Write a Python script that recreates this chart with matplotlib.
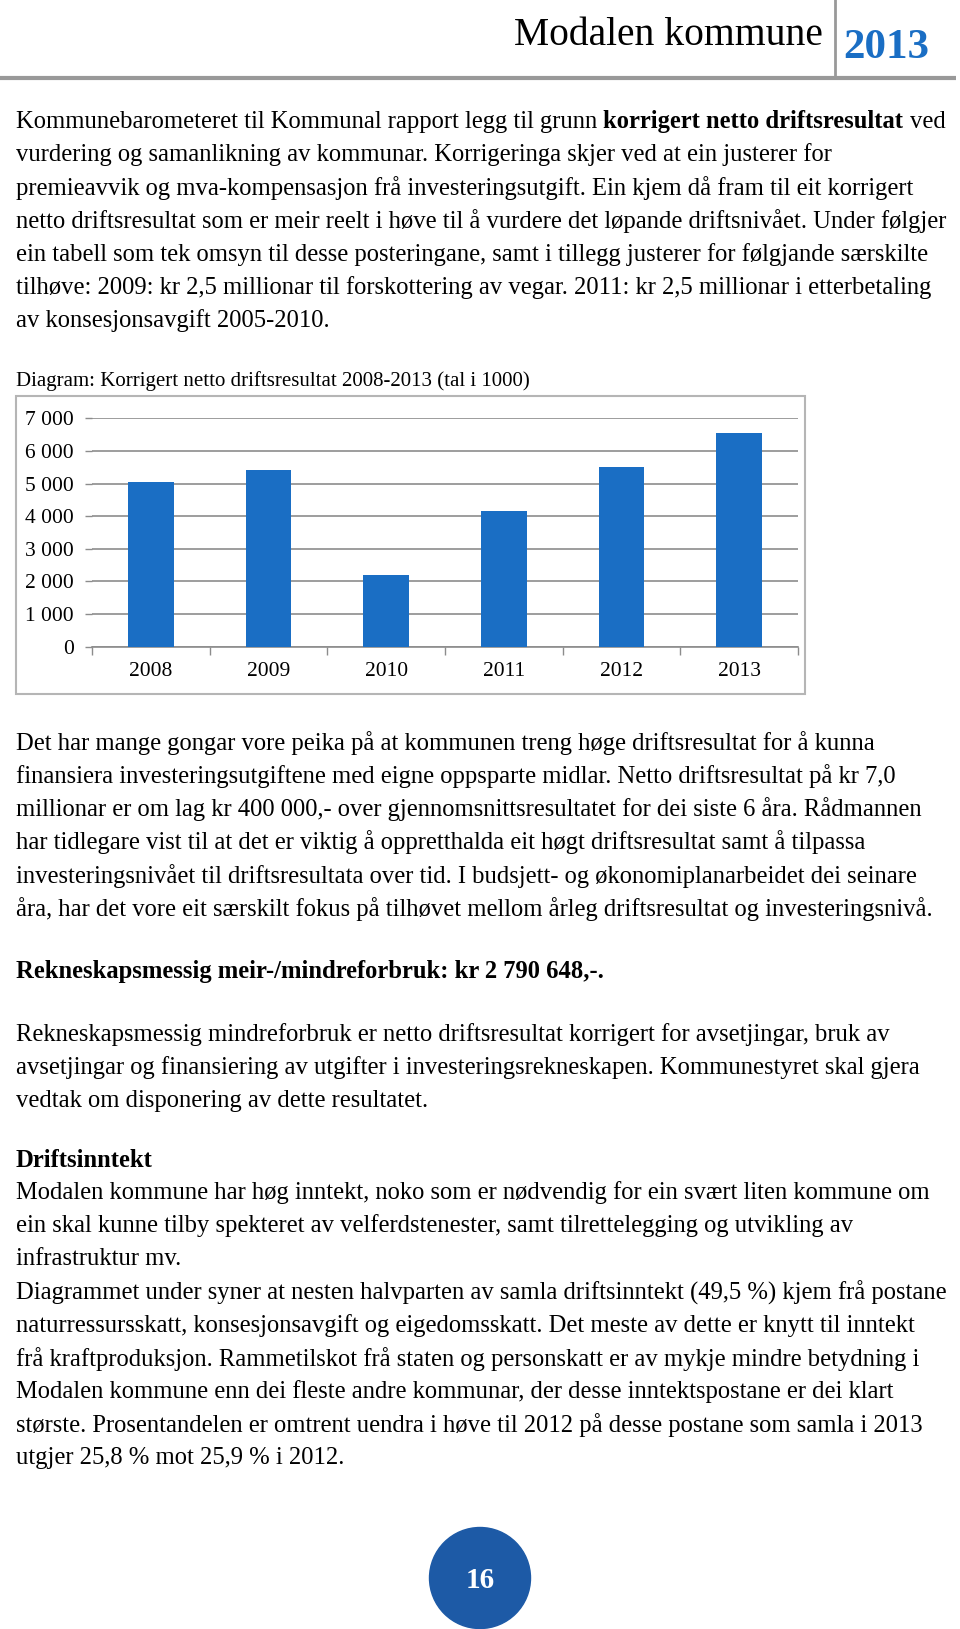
import matplotlib.pyplot as plt
from matplotlib.patches import Circle, Rectangle

# chart data (tal i 1000)
years = ['2008', '2009', '2010', '2011', '2012', '2013']
result = [5040, 5430, 2190, 4160, 5520, 6560]
yticks = [0, 1000, 2000, 3000, 4000, 5000, 6000, 7000]

SERIF = 'Liberation Serif'
BODY = 17.7
BLUE = '#1a6ec4'

para1 = [
    [('Kommunebarometeret til Kommunal rapport legg til grunn', False),
     ('korrigert netto driftsresultat', True), ('ved', False)],
    [('vurdering og samanlikning av kommunar. Korrigeringa skjer ved at ein justerer for', False)],
    [('premieavvik og mva-kompensasjon frå investeringsutgift. Ein kjem då fram til eit korrigert', False)],
    [('netto driftsresultat som er meir reelt i høve til å vurdere det løpande driftsnivået. Under følgjer', False)],
    [('ein tabell som tek omsyn til desse posteringane, samt i tillegg justerer for følgjande særskilte', False)],
    [('tilhøve: 2009: kr 2,5 millionar til forskottering av vegar. 2011: kr 2,5 millionar i etterbetaling', False)],
    [('av konsesjonsavgift 2005-2010.', False)],
]
para2 = [
    'Det har mange gongar vore peika på at kommunen treng høge driftsresultat for å kunna',
    'finansiera investeringsutgiftene med eigne oppsparte midlar. Netto driftsresultat på kr 7,0',
    'millionar er om lag kr 400 000,- over gjennomsnittsresultatet for dei siste 6 åra. Rådmannen',
    'har tidlegare vist til at det er viktig å oppretthalda eit høgt driftsresultat samt å tilpassa',
    'investeringsnivået til driftsresultata over tid. I budsjett- og økonomiplanarbeidet dei seinare',
    'åra, har det vore eit særskilt fokus på tilhøvet mellom årleg driftsresultat og investeringsnivå.',
]
para3 = [
    'Rekneskapsmessig mindreforbruk er netto driftsresultat korrigert for avsetjingar, bruk av',
    'avsetjingar og finansiering av utgifter i investeringsrekneskapen. Kommunestyret skal gjera',
    'vedtak om disponering av dette resultatet.',
]
para4 = [
    'Modalen kommune har høg inntekt, noko som er nødvendig for ein svært liten kommune om',
    'ein skal kunne tilby spekteret av velferdstenester, samt tilrettelegging og utvikling av',
    'infrastruktur mv.',
    'Diagrammet under syner at nesten halvparten av samla driftsinntekt (49,5 %) kjem frå postane',
    'naturressursskatt, konsesjonsavgift og eigedomsskatt. Det meste av dette er knytt til inntekt',
    'frå kraftproduksjon. Rammetilskot frå staten og personskatt er av mykje mindre betydning i',
    'Modalen kommune enn dei fleste andre kommunar, der desse inntektspostane er dei klart',
    'største. Prosentandelen er omtrent uendra i høve til 2012 på desse postane som samla i 2013',
    'utgjer 25,8 % mot 25,9 % i 2012.',
]


def put_line(ax, y, segments, size=BODY):
    # draw a line of text, segment by segment (so bold can sit mid-line)
    prev = None
    for txt, bold in segments:
        w = 'bold' if bold else 'normal'
        if prev is None:
            prev = ax.text(16, y, txt, fontsize=size, fontweight=w, family=SERIF,
                           va='center', ha='left')
        else:
            prev = ax.annotate(txt, xy=(1, y), xycoords=(prev, 'data'),
                               xytext=(0.25 * size, 0), textcoords='offset points',
                               fontsize=size, fontweight=w, family=SERIF,
                               va='center', ha='left')


def put_para(ax, y0, lines, step=33.2):
    for i, line in enumerate(lines):
        if isinstance(line, str):
            line = [(line, False)]
        put_line(ax, y0 + i * step, line)


fig = plt.figure(figsize=(9.6, 16.29), dpi=100)
page = fig.add_axes([0, 0, 1, 1])
page.set_xlim(0, 960)
page.set_ylim(1629, 0)
page.axis('off')

# header
page.plot([0, 956], [78, 78], color='#999999', lw=3, solid_capstyle='butt')
page.plot([835, 835], [0, 78], color='#999999', lw=2)
page.text(823, 45, 'Modalen kommune', fontsize=28.5, family=SERIF, ha='right', va='baseline')
page.text(843, 58, '2013', fontsize=31, family=SERIF, fontweight='bold', color=BLUE,
          ha='left', va='baseline')

# text
put_para(page, 121.6, para1)
page.text(16, 381.5, 'Diagram: Korrigert netto driftsresultat 2008-2013 (tal i 1000)',
          fontsize=15, family=SERIF, va='center', ha='left')
put_para(page, 742.8, para2)
put_line(page, 971.4, [('Rekneskapsmessig meir-/mindreforbruk: kr 2 790 648,-.', True)])
put_para(page, 1034.8, para3)
put_line(page, 1160.5, [('Driftsinntekt', True)])
put_para(page, 1192.7, para4)

# chart frame
page.add_patch(Rectangle((16, 396), 789, 298, fill=False, edgecolor='#b5b5b5', lw=1.5))

# chart
x0, x1, ytop, ybot = 92, 798, 418.3, 646.7
ax = fig.add_axes([x0 / 960, (1629 - ybot) / 1629, (x1 - x0) / 960, (ybot - ytop) / 1629])
pos = list(range(len(years)))
ax.bar(pos, result, width=0.39, color=BLUE, zorder=3)
ax.set_xlim(-0.5, len(years) - 0.5)
ax.set_ylim(0, 7000)
ax.set_yticks(yticks)
ax.set_yticklabels([f'{v:,}'.replace(',', ' ') for v in yticks], family=SERIF, fontsize=15.5)
ax.set_xticks(pos)
ax.set_xticklabels(years, family=SERIF, fontsize=15.5)
ax.set_xticks([p - 0.5 for p in pos] + [len(years) - 0.5], minor=True)
ax.tick_params(axis='x', which='major', length=0, pad=11)
ax.tick_params(axis='x', which='minor', length=6, color='#8c8c8c', width=1)
ax.tick_params(axis='y', length=5, color='#8c8c8c', width=1, pad=8)
ax.yaxis.grid(True, color='#8c8c8c', lw=1.2)
ax.set_axisbelow(True)
for s in ['left', 'top', 'right']:
    ax.spines[s].set_visible(False)
ax.spines['bottom'].set_color('#8c8c8c')
ax.spines['bottom'].set_linewidth(1.2)
ax.patch.set_alpha(0)

# page number
page.add_patch(Circle((480, 1578), 50.5, color='#1d5aa6'))
page.text(480, 1580, '16', fontsize=21, family=SERIF, fontweight='bold', color='white',
          ha='center', va='center')

fig.savefig('out.png', dpi=100)
